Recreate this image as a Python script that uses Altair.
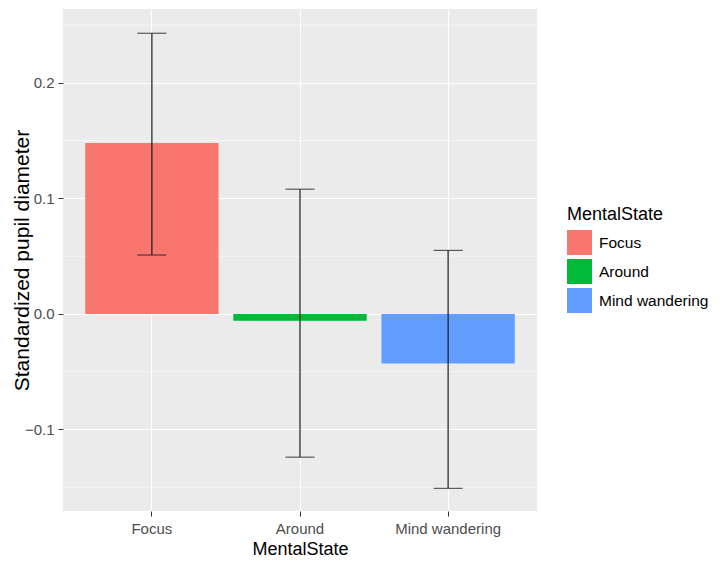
import altair as alt
import pandas as pd

states = ["Focus", "Around", "Mind wandering"]
means = [0.148, -0.006, -0.043]
lower = [0.051, -0.124, -0.151]
upper = [0.243, 0.108, 0.055]
colors = ["#F8766D", "#00BA38", "#619CFF"]
major_ticks = [-0.1, 0.0, 0.1, 0.2]
minor_ticks = [-0.15, -0.05, 0.05, 0.15, 0.25]
y_domain = [-0.1706, 0.264]

df = pd.DataFrame({"MentalState": states, "mean": means, "lo": lower, "hi": upper})
minor_df = pd.DataFrame({"v": minor_ticks})

FONT = "Liberation Sans"

xaxis = alt.Axis(title="MentalState", labelAngle=0, grid=True, bandPosition=0.5,
                 gridColor="white", gridWidth=1.1, domain=False,
                 tickColor="#333333", tickSize=5, tickWidth=1,
                 labelColor="#4D4D4D", labelFontSize=15, labelFont=FONT,
                 labelBaseline="alphabetic", labelPadding=17,
                 titleFontSize=18, titleFontWeight="normal", titleColor="#000000",
                 titleFont=FONT, titleBaseline="alphabetic", titleX=237, titleY=43,
                 titleAlign="center")
xscale = alt.Scale(domain=states, paddingInner=0.1, paddingOuter=0.15)

yscale = alt.Scale(domain=y_domain, nice=False, zero=False)
yaxis = alt.Axis(title="Standardized pupil diameter", values=major_ticks, format=".1f",
                 grid=True, gridColor="white", gridWidth=1.1, domain=False,
                 tickColor="#333333", tickSize=5, tickWidth=1,
                 labelColor="#4D4D4D", labelFontSize=15, labelFont=FONT, labelPadding=4,
                 titleFontSize=21, titleFontWeight="normal", titleColor="#000000",
                 titleFont=FONT, titleAngle=-90, titleBaseline="alphabetic",
                 titleX=-35, titleY=251, titleAlign="center")

minor = alt.Chart(minor_df).mark_rule(color="white", strokeWidth=0.6).encode(
    y=alt.Y("v:Q", scale=yscale, axis=yaxis)
)

bars = alt.Chart(df).mark_bar().encode(
    x=alt.X("MentalState:N", sort=states, scale=xscale, axis=xaxis),
    y=alt.Y("mean:Q", scale=yscale, axis=yaxis),
    y2=alt.datum(0),
    color=alt.Color("MentalState:N", sort=states,
                    scale=alt.Scale(domain=states, range=colors),
                    legend=alt.Legend(title="MentalState", symbolType="square",
                                      symbolSize=625, symbolStrokeWidth=0,
                                      symbolOpacity=1,
                                      titleFontSize=18, titleFontWeight="normal",
                                      titleColor="#000000", titleFont=FONT,
                                      labelFontSize=15.5, labelColor="#000000",
                                      labelFont=FONT, labelOffset=7,
                                      rowPadding=4, titlePadding=6,
                                      orient="none", legendX=504, legendY=197)),
)

err = alt.Chart(df).mark_rule(color="#1A1A1A", strokeWidth=1.2).encode(
    x=alt.X("MentalState:N", sort=states, scale=xscale, axis=xaxis),
    y=alt.Y("lo:Q", scale=yscale, axis=yaxis),
    y2="hi:Q",
)
cap_lo = alt.Chart(df).mark_tick(color="#1A1A1A", size=29, thickness=1.2).encode(
    x=alt.X("MentalState:N", sort=states, scale=xscale, axis=xaxis),
    y=alt.Y("lo:Q", scale=yscale, axis=yaxis),
)
cap_hi = alt.Chart(df).mark_tick(color="#1A1A1A", size=29, thickness=1.2).encode(
    x=alt.X("MentalState:N", sort=states, scale=xscale, axis=xaxis),
    y=alt.Y("hi:Q", scale=yscale, axis=yaxis),
)

chart = alt.layer(minor, bars, err, cap_lo, cap_hi).properties(
    width=474, height=502, background="white",
    autosize=alt.AutoSizeParams(type="none"),
    padding={"left": 55, "top": 1, "right": 175, "bottom": 47}
).configure_view(fill="#EBEBEB", stroke=None)

chart.save("out.html", embed_options={"renderer": "svg", "actions": False})
